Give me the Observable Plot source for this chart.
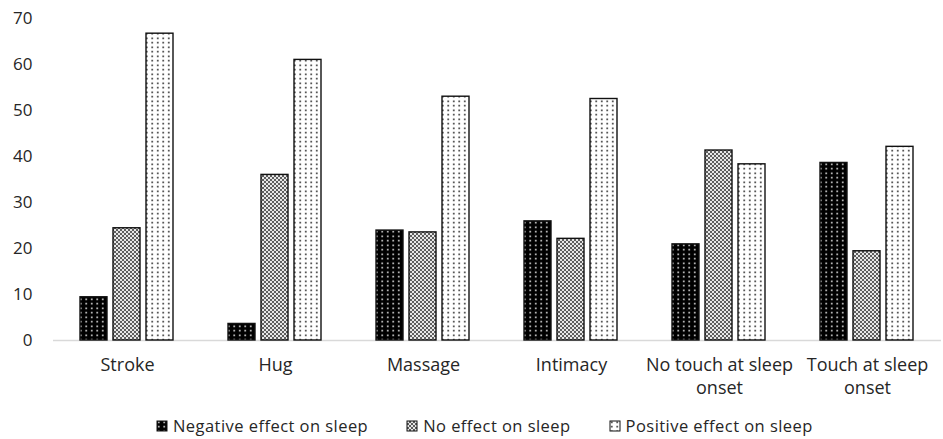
<!DOCTYPE html>
<html>
<head>
<meta charset="utf-8">
<script src="https://cdn.jsdelivr.net/npm/d3@7"></script>
<script src="https://cdn.jsdelivr.net/npm/@observablehq/plot@0.6"></script>
<style>
  html, body { margin: 0; padding: 0; background: #fff; }
  body { width: 943px; height: 439px; overflow: hidden; font-family: "Open Sans", sans-serif; color: #262626; }
  #chart svg { display: block; }
  #legend { display: flex; align-items: center; padding-left: 156px; margin-top: 6px; height: 39px; font-size: 16.5px; letter-spacing: 0.45px; }
  .item { display: flex; align-items: center; margin-right: 38px; }
  .item svg { margin-right: 5px; }
</style>
</head>
<body>
<div id="chart"></div>
<div id="legend"></div>
<script>
const categories = ["Stroke", "Hug", "Massage", "Intimacy", "No touch at sleep onset", "Touch at sleep onset"];
const tickLabels = ["Stroke", "Hug", "Massage", "Intimacy", "No touch at sleep\nonset", "Touch at sleep\nonset"];
const series = ["Negative effect on sleep", "No effect on sleep", "Positive effect on sleep"];
const negative = [9.4, 3.6, 23.9, 25.9, 20.9, 38.6];
const noEffect = [24.4, 36.0, 23.5, 22.1, 41.3, 19.4];
const positive = [66.7, 61.0, 53.0, 52.5, 38.3, 42.1];
const yTicks = [0, 10, 20, 30, 40, 50, 60, 70];
const patternIds = ["pNeg", "pNo", "pPos"];

const seriesValues = [negative, noEffect, positive];
const data = [];
categories.forEach((c, i) => {
  series.forEach((s, j) => data.push({category: c, series: s, value: seriesValues[j][i]}));
});

const chart = Plot.plot({
  width: 943,
  height: 400,
  marginLeft: 52,
  marginRight: 2,
  marginTop: 18,
  marginBottom: 60,
  style: {fontFamily: "Open Sans, sans-serif", color: "#262626", background: "white"},
  fx: {domain: categories, padding: 0, label: null, axis: null},
  x: {domain: series, paddingInner: 0.18, paddingOuter: 0.83, axis: null},
  y: {domain: [0, 70], label: null, axis: null},
  color: {domain: series, range: patternIds.map(id => `url(#${id})`)},
  marks: [
    Plot.ruleY([0], {stroke: "#d9d9d9", strokeWidth: 1.5}),
    Plot.barY(data, {fx: "category", x: "series", y: "value", fill: "series", stroke: "#111", strokeWidth: 1.4}),
    Plot.axisY({ticks: yTicks, tickSize: 0, tickPadding: 21, fontSize: 17, label: null}),
    Plot.axisFx({anchor: "bottom", tickSize: 0, tickPadding: 14, fontSize: 18, lineHeight: 1.28, label: null,
      tickFormat: d => tickLabels[categories.indexOf(d)]})
  ]
});

const svg = d3.select(chart);
const defs = svg.insert("defs", ":first-child");
// Negative: black with white dots
const p1 = defs.append("pattern").attr("id", "pNeg").attr("patternUnits", "userSpaceOnUse").attr("width", 5.5).attr("height", 4.5);
p1.append("rect").attr("width", 5.5).attr("height", 4.5).attr("fill", "#000");
p1.append("circle").attr("cx", 2.75).attr("cy", 2.25).attr("r", 0.85).attr("fill", "#fff");
// No effect: crosshatch gray
const p2 = defs.append("pattern").attr("id", "pNo").attr("patternUnits", "userSpaceOnUse").attr("width", 4).attr("height", 4);
p2.append("rect").attr("width", 4).attr("height", 4).attr("fill", "#3a3a3a");
[[0,0],[4,0],[0,4],[4,4],[2,2]].forEach(([cx, cy]) => p2.append("circle").attr("cx", cx).attr("cy", cy).attr("r", 1.25).attr("fill", "#e8e8e8"));
// Positive: white with black dots
const p3 = defs.append("pattern").attr("id", "pPos").attr("patternUnits", "userSpaceOnUse").attr("width", 5.5).attr("height", 4.5);
p3.append("rect").attr("width", 5.5).attr("height", 4.5).attr("fill", "#fff");
p3.append("circle").attr("cx", 2.75).attr("cy", 2.25).attr("r", 0.8).attr("fill", "#000");

document.getElementById("chart").append(chart);

const legend = d3.select("#legend");
series.forEach((s, i) => {
  const item = legend.append("div").attr("class", "item");
  const sw = item.append("svg").attr("width", 12).attr("height", 12);
  sw.append("rect").attr("x", 1).attr("y", 1).attr("width", 10).attr("height", 10)
    .attr("fill", `url(#${patternIds[i]})`).attr("stroke", "#111").attr("stroke-width", 1);
  item.append("span").text(s);
});
</script>
</body>
</html>
